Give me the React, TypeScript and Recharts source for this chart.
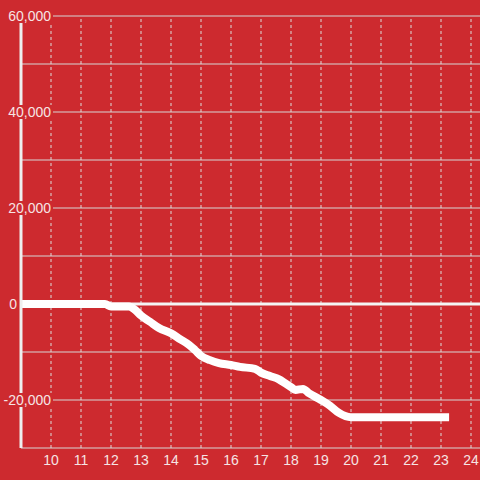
import { LineChart, Line, XAxis, YAxis, CartesianGrid, ReferenceLine } from 'recharts';

const xValues = [
  9, 10, 11, 11.8, 12, 12.6, 12.8, 13, 13.3, 13.6, 14, 14.3, 14.6, 14.8, 15, 15.3, 15.6, 16, 16.3, 16.8,
  17, 17.3, 17.6, 17.8, 18, 18.15, 18.4, 18.6, 19, 19.3, 19.6, 20, 21, 22, 23.27,
];
const yValues = [
  0, 0, 0, 0, -500, -500, -1200, -2400, -3700, -5000, -6100, -7300, -8500, -9600, -10800, -11700, -12300,
  -12700, -13100, -13500, -14300, -15000, -15700, -16500, -17300, -17900, -17700, -18600, -20000, -21200,
  -22700, -23600, -23600, -23600, -23600,
];
const xTicks = [10, 11, 12, 13, 14, 15, 16, 17, 18, 19, 20, 21, 22, 23, 24];
const yTicks = [-30000, -20000, -10000, 0, 10000, 20000, 30000, 40000, 50000, 60000];
const yLabelled = [-20000, 0, 20000, 40000, 60000];

const data = xValues.map((x, i) => ({ x, y: yValues[i] }));

const BG = '#cd2a2f';
const TEXT = '#f6e4e4';
const FONT = '"Liberation Sans", Arial, sans-serif';

// y 轴标签：带红色底块，盖住轴线和网格线
const YTick = (props: any) => {
  const { y, payload } = props;
  if (!yLabelled.includes(payload.value)) return null;
  const label = payload.value.toLocaleString('en-US');
  const right = payload.value === 0 ? 17 : 51;
  const w = label.length * 8 + 2;
  return (
    <g>
      <rect x={right - w + 1} y={y - 7} width={w + 1} height={14} fill={BG} />
      <text x={right} y={y} dy="0.355em" textAnchor="end" fill={TEXT} fontSize={14} fontFamily={FONT}>
        {label}
      </text>
    </g>
  );
};

const XTick = (props: any) => {
  const { x, y, payload } = props;
  return (
    <text x={x} y={y + 12} dy="0.355em" textAnchor="middle" fill={TEXT} fontSize={14} fontFamily={FONT}>
      {payload.value}
    </text>
  );
};

export default function App() {
  return (
    <div style={{ position: 'absolute', left: 0, top: 0, width: 480, height: 480, background: BG }}>
      <LineChart width={480} height={480} data={data} margin={{ top: 16, right: 0, bottom: 0, left: 0 }}>
        <CartesianGrid vertical={false} stroke="#d6d6d6" />
        {/* 竖向虚线只画在整数刻度上 */}
        {xTicks.map((t) => (
          <ReferenceLine key={t} x={t} stroke="#dcdcdc" strokeDasharray="3 3" />
        ))}
        <XAxis
          type="number"
          dataKey="x"
          domain={[9, 24.3]}
          ticks={xTicks}
          height={32}
          axisLine={false}
          tickLine={false}
          tickSize={0}
          tickMargin={0}
          tick={<XTick />}
          allowDataOverflow
        />
        <YAxis
          type="number"
          domain={[-30000, 60000]}
          ticks={yTicks}
          width={21}
          axisLine={{ stroke: '#eeeeee', strokeWidth: 3 }}
          tickLine={false}
          tickSize={0}
          tickMargin={0}
          tick={<YTick />}
          interval={0}
        />
        <ReferenceLine y={0} stroke="#f4f4f4" strokeWidth={3} />
        <Line
          type="monotone"
          dataKey="y"
          stroke="#ffffff"
          strokeWidth={8}
          dot={false}
          activeDot={false}
          isAnimationActive={false}
        />
      </LineChart>
    </div>
  );
}
